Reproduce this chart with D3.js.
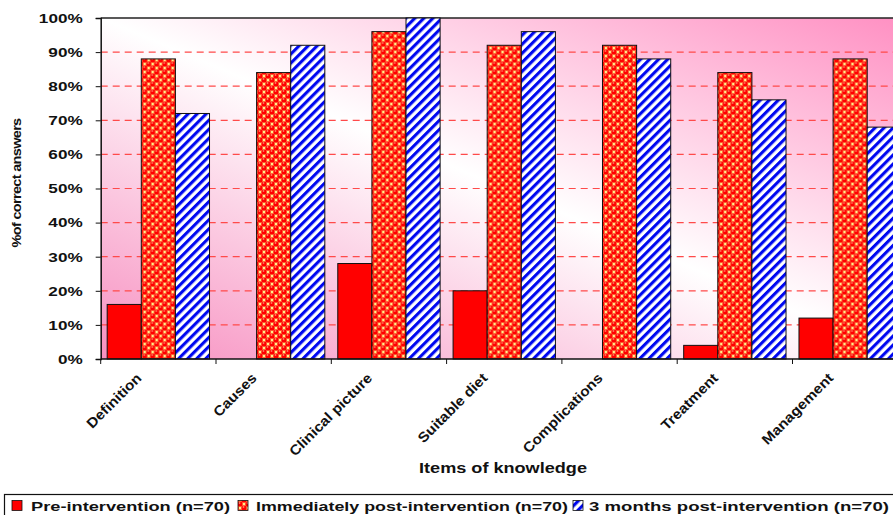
<!DOCTYPE html>
<html>
<head>
<meta charset="utf-8">
<script src="https://cdn.jsdelivr.net/npm/d3@7"></script>
<style>
  html, body { margin: 0; padding: 0; background: #fff; }
  svg { display: block; font-family: "Liberation Sans", Arial, sans-serif; }
</style>
</head>
<body>
<svg id="chart" width="893" height="515"></svg>
<script>
// Knowledge items and the share of correct answers (%) for each survey round
const categories = ["Definition", "Causes", "Clinical picture", "Suitable diet", "Complications", "Treatment", "Management"];
const seriesNames = ["Pre-intervention (n=70)", "Immediately post-intervention (n=70)", "3 months post-intervention (n=70)"];
const preIntervention = [16, 0, 28, 20, 0, 4, 12];
const immediatelyPost = [88, 84, 96, 92, 92, 84, 88];
const threeMonthsPost = [72, 92, 100, 96, 88, 76, 68];
const yTicks = [0, 10, 20, 30, 40, 50, 60, 70, 80, 90, 100];

const seriesValues = [preIntervention, immediatelyPost, threeMonthsPost];
const svg = d3.select("#chart");

// Widen a text run horizontally (wide-set bold lettering)
function widen(sel, factor) {
  sel.each(function () {
    const w = this.getComputedTextLength();
    d3.select(this).attr("textLength", w * factor).attr("lengthAdjust", "spacingAndGlyphs");
  });
}
function fitTo(sel, width) {
  sel.attr("textLength", width).attr("lengthAdjust", "spacingAndGlyphs");
}

// Plot frame (the category axis continues past the right edge of the page)
const plot = { left: 100.7, top: 18, bottom: 359, step: 115.3 };
plot.right = plot.left + plot.step * categories.length;

const x = d3.scaleBand().domain(categories).range([plot.left, plot.right]).padding(0);
const xs = d3.scaleBand().domain(d3.range(seriesNames.length))
  .range([0, x.bandwidth()]).paddingInner(0).paddingOuter(0.19);
const y = d3.scaleLinear().domain([0, 100]).range([plot.bottom, plot.top]);

const defs = svg.append("defs");

// Diagonal pink-white-pink wash behind the bars
const grad = defs.append("linearGradient").attr("id", "bg")
  .attr("x1", 0).attr("y1", 1).attr("x2", 1).attr("y2", 0);
grad.append("stop").attr("offset", 0).attr("stop-color", "#f78fc0");
grad.append("stop").attr("offset", 0.5).attr("stop-color", "#ffffff");
grad.append("stop").attr("offset", 1).attr("stop-color", "#ff8fc2");

// Red balls on a yellow check
const dots = defs.append("pattern").attr("id", "dots").attr("patternUnits", "userSpaceOnUse")
  .attr("width", 8).attr("height", 8);
dots.append("rect").attr("width", 8).attr("height", 8).attr("fill", "#ff1a00");
[[4, 0], [0, 4], [8, 4], [4, 8]].forEach(([cx, cy]) => {
  dots.append("rect").attr("x", cx - 1.7).attr("y", cy - 1.7).attr("width", 3.4).attr("height", 3.4)
    .attr("fill", "#fff08a");
});
[[0, 0], [4, 4], [8, 0], [0, 8], [8, 8]].forEach(([cx, cy]) => {
  dots.append("circle").attr("cx", cx).attr("cy", cy).attr("r", 2.6).attr("fill", "#ff0000");
  dots.append("circle").attr("cx", cx - 0.5).attr("cy", cy - 1).attr("r", 0.9).attr("fill", "#ff7a60");
});

// Blue forward-slash stripes on white
const stripes = defs.append("pattern").attr("id", "stripes").attr("patternUnits", "userSpaceOnUse")
  .attr("width", 6.4).attr("height", 6.4).attr("patternTransform", "rotate(45)");
stripes.append("rect").attr("width", 6.4).attr("height", 6.4).attr("fill", "#ffffff");
stripes.append("rect").attr("width", 3.1).attr("height", 6.4).attr("fill", "#0008f0");

const fills = ["#ff0000", "url(#dots)", "url(#stripes)"];

// Background
svg.append("rect")
  .attr("x", plot.left).attr("y", plot.top)
  .attr("width", plot.right - plot.left).attr("height", plot.bottom - plot.top)
  .attr("fill", "url(#bg)");

// Dashed gridlines
svg.append("g").selectAll("line")
  .data(yTicks.filter(d => d > 0 && d < 100))
  .join("line")
  .attr("x1", plot.left).attr("x2", plot.right)
  .attr("y1", d => y(d)).attr("y2", d => y(d))
  .attr("stroke", "#ff4a4a").attr("stroke-width", 1.2)
  .attr("stroke-dasharray", "7,5");

// Top frame line
svg.append("line")
  .attr("x1", plot.left).attr("x2", plot.right)
  .attr("y1", plot.top).attr("y2", plot.top)
  .attr("stroke", "#222").attr("stroke-width", 1.5);

// Bars
const groups = svg.append("g").selectAll("g")
  .data(categories)
  .join("g")
  .attr("transform", d => `translate(${x(d)},0)`);

groups.selectAll("rect")
  .data((c, i) => seriesValues.map((vals, s) => ({ s, v: vals[i] })).filter(d => d.v > 0))
  .join("rect")
  .attr("x", d => xs(d.s))
  .attr("width", xs.bandwidth())
  .attr("y", d => y(d.v))
  .attr("height", d => y(0) - y(d.v))
  .attr("fill", d => fills[d.s])
  .attr("stroke", "#111").attr("stroke-width", 1);

// Y axis
const yAxis = svg.append("g")
  .attr("transform", `translate(${plot.left},0)`)
  .call(d3.axisLeft(y).tickValues(yTicks).tickFormat(d => d + "%").tickSize(5).tickPadding(13));
yAxis.select(".domain").attr("stroke", "#111").attr("stroke-width", 1.5);
yAxis.selectAll(".tick line").attr("stroke", "#111");
yAxis.selectAll("text")
  .attr("font-family", "Liberation Sans, Arial, sans-serif")
  .attr("font-size", 13.5).attr("font-weight", "bold").attr("fill", "#111")
  .call(widen, 1.27);

// X axis with boundary ticks
const xAxis = svg.append("g").attr("transform", `translate(0,${plot.bottom})`);
xAxis.append("line")
  .attr("x1", plot.left).attr("x2", plot.right)
  .attr("stroke", "#111").attr("stroke-width", 1.5);
xAxis.selectAll("line.tick")
  .data(d3.range(categories.length + 1))
  .join("line").attr("class", "tick")
  .attr("x1", i => plot.left + i * x.step()).attr("x2", i => plot.left + i * x.step())
  .attr("y1", 0).attr("y2", 5)
  .attr("stroke", "#111");
xAxis.selectAll("text")
  .data(categories)
  .join("text")
  .attr("transform", d => `translate(${x(d) + x.bandwidth() / 2 - 16},${20}) rotate(-45)`)
  .attr("text-anchor", "end")
  .attr("font-size", 14).attr("font-weight", "bold").attr("fill", "#111")
  .text(d => d)
  .call(widen, 1.1);

// Axis titles
svg.append("text")
  .attr("transform", "translate(21,183) rotate(-90)")
  .attr("text-anchor", "middle")
  .attr("font-size", 13).attr("font-weight", "bold").attr("letter-spacing", -0.6)
  .attr("fill", "#111")
  .text("%of correct answers")
  .call(fitTo, 129);

svg.append("text")
  .attr("x", 503).attr("y", 473)
  .attr("text-anchor", "middle")
  .attr("font-size", 14).attr("font-weight", "bold").attr("fill", "#111")
  .text("Items of knowledge")
  .call(fitTo, 168);

// Legend
const legend = svg.append("g");
legend.append("rect")
  .attr("x", 4.5).attr("y", 494.5).attr("width", 900).attr("height", 30)
  .attr("fill", "#fff").attr("stroke", "#111").attr("stroke-width", 1.2);
const legendSwatchX = [12, 238, 573];
const legendTextX = [31, 256, 589];
const legendTextW = [199, 312, 300];
seriesNames.forEach((name, i) => {
  legend.append("rect")
    .attr("x", legendSwatchX[i]).attr("y", 500.5).attr("width", 10).attr("height", 10)
    .attr("fill", fills[i]).attr("stroke", "#111").attr("stroke-width", 0.8);
  legend.append("text")
    .attr("x", legendTextX[i]).attr("y", 511)
    .attr("font-size", 13.5).attr("font-weight", "bold").attr("fill", "#111")
    .text(name)
    .call(fitTo, legendTextW[i]);
});
</script>
</body>
</html>
